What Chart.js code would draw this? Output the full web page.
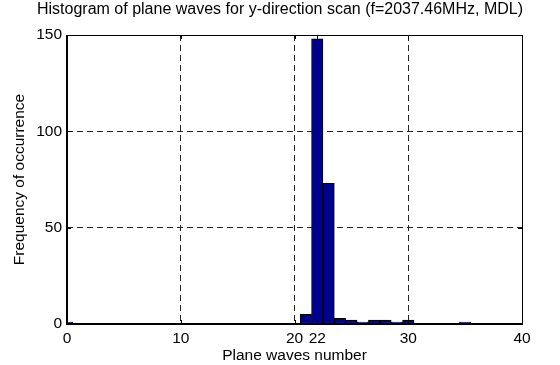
<!DOCTYPE html>
<html>
<head>
<meta charset="utf-8">
<script src="https://cdn.jsdelivr.net/npm/chart.js@4/dist/chart.umd.min.js"></script>
<style>
html, body { margin: 0; padding: 0; background: #fff; }
#wrap { width: 560px; height: 365px; }
</style>
</head>
<body>
<div id="wrap"><canvas id="histChart"></canvas></div>
<script>
// histogram bins (plane waves number) and how often each occurred
const binCenters = [0, 21, 22, 23, 24, 25, 26, 27, 28, 29, 30, 35];
const counts     = [1, 5, 148, 73, 3, 2, 1, 2, 2, 1, 2, 1];
const xTicks = [0, 10, 20, 22, 30, 40];
const yTicks = [0, 50, 100, 150];
const titleText = 'Histogram of plane waves for y-direction scan (f=2037.46MHz, MDL)';

const FONT = 'Liberation Sans, Arial, sans-serif';

// title centred on the whole figure, like matlab does here
const titlePlugin = {
    id: 'figTitle',
    afterDraw(chart) {
        const ctx = chart.ctx;
        ctx.save();
        ctx.fillStyle = '#000';
        ctx.font = '16px ' + FONT;
        ctx.textAlign = 'center';
        ctx.textBaseline = 'middle';
        ctx.fillText(titleText, chart.width / 2, 9.6);
        ctx.restore();
    }
};

// box round the axes plus matlab style inward ticks
const framePlugin = {
    id: 'frame',
    afterDatasetsDraw(chart) {
        const { ctx, chartArea: a, scales } = chart;
        ctx.save();
        ctx.strokeStyle = '#000';
        ctx.lineWidth = 1;
        ctx.beginPath();
        xTicks.forEach(v => {
            const px = Math.round(scales.x.getPixelForValue(v)) + 0.5;
            ctx.moveTo(px, a.bottom); ctx.lineTo(px, a.bottom - 4);
            ctx.moveTo(px, a.top); ctx.lineTo(px, a.top + 4);
        });
        yTicks.forEach(v => {
            const py = Math.round(scales.y.getPixelForValue(v)) + 0.5;
            ctx.moveTo(a.left, py); ctx.lineTo(a.left + 4, py);
            ctx.moveTo(a.right, py); ctx.lineTo(a.right - 4, py);
        });
        ctx.stroke();
        ctx.lineWidth = 1;
        ctx.strokeRect(Math.round(a.left) + 0.5, Math.round(a.top) + 0.5,
            Math.round(a.right - a.left), Math.round(a.bottom - a.top));
        ctx.lineWidth = 2;
        ctx.beginPath();
        ctx.moveTo(Math.round(a.left), a.top);
        ctx.lineTo(Math.round(a.left), Math.round(a.bottom));
        ctx.lineTo(a.right + 1, Math.round(a.bottom));
        ctx.stroke();
        ctx.restore();
    }
};

const gridColor = (edges) => (c) =>
    (c.tick && edges.includes(c.tick.value)) ? 'rgba(0,0,0,0)' : '#222';

const histCtx = document.getElementById('histChart').getContext('2d');
const histChart = new Chart(histCtx, {
    type: 'bar',
    data: {
        datasets: [{
            label: 'Frequency',
            data: binCenters.map((b, i) => ({ x: b, y: counts[i] })),
            backgroundColor: '#00008F',
            borderColor: '#000',
            borderWidth: 1,
            borderSkipped: false,
            barPercentage: 1,
            categoryPercentage: 1,
            clip: 0
        }]
    },
    options: {
        responsive: true,
        maintainAspectRatio: false,
        animation: false,
        devicePixelRatio: 1,
        layout: { padding: { left: 0, right: 38, top: 35, bottom: 0 } },
        plugins: {
            legend: { display: false },
            tooltip: { enabled: false },
            title: { display: false }
        },
        scales: {
            x: {
                type: 'linear',
                min: 0,
                max: 40,
                offset: false,
                afterBuildTicks: (scale) => { scale.ticks = xTicks.map(v => ({ value: v })); },
                afterFit: (scale) => { scale.height = 41; },
                ticks: {
                    autoSkip: false,
                    maxRotation: 0,
                    color: '#000',
                    padding: 5,
                    font: { family: FONT, size: 15.5 }
                },
                grid: {
                    offset: false,
                    drawTicks: false,
                    color: gridColor([0, 40]),
                    lineWidth: 1,
                    borderDash: [6, 4]
                },
                border: { display: false, dash: [6, 4] },
                title: {
                    display: true,
                    text: 'Plane waves number',
                    color: '#000',
                    font: { family: FONT, size: 15.5 },
                    padding: { top: 0, bottom: 0 }
                }
            },
            y: {
                min: 0,
                max: 150,
                afterBuildTicks: (scale) => { scale.ticks = yTicks.map(v => ({ value: v })); },
                afterFit: (scale) => { scale.width = 67; },
                ticks: {
                    color: '#000',
                    padding: 5,
                    font: { family: FONT, size: 15.5 }
                },
                grid: {
                    drawTicks: false,
                    color: gridColor([0, 150]),
                    lineWidth: 1,
                    borderDash: [6, 4]
                },
                border: { display: false, dash: [6, 4] },
                title: {
                    display: true,
                    text: 'Frequency of occurrence',
                    color: '#000',
                    font: { family: FONT, size: 15.5 },
                    padding: { top: 10, bottom: 0 }
                }
            }
        }
    },
    plugins: [framePlugin, titlePlugin]
});
</script>
</body>
</html>
